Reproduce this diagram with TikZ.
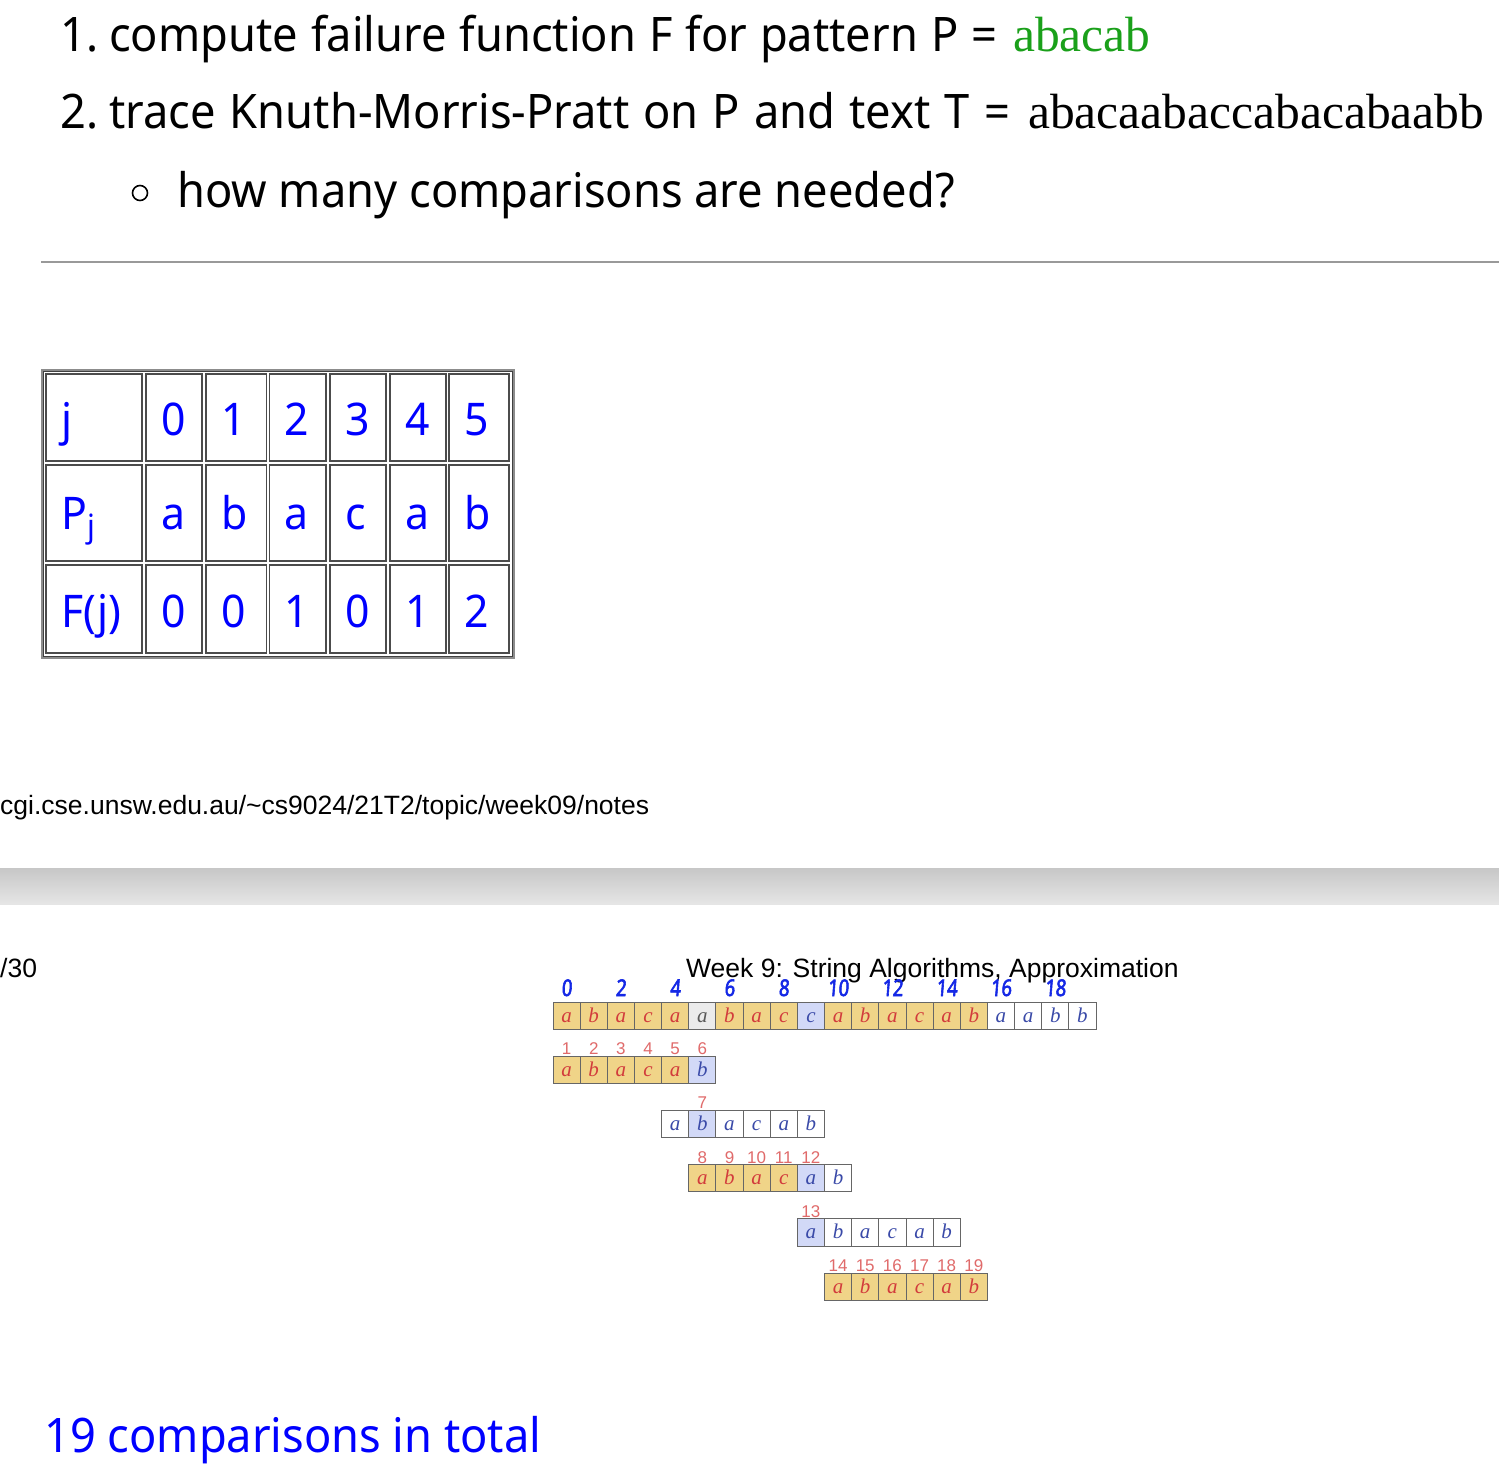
\documentclass[tikz,border=0pt]{standalone}
\usepackage{fontspec}
\setmainfont{Noto Sans}[FakeStretch=0.95]
\newfontfamily\simfont{Liberation Serif}
\newfontfamily\arialf{Liberation Sans}
\newfontfamily\handf{Noto Sans}[FakeStretch=0.8,FakeSlant=0.08,FakeBold=2.5]
\definecolor{linkblue}{HTML}{0000FF}
\definecolor{pgreen}{HTML}{1AA01A}
\definecolor{cellyel}{HTML}{F0D488}
\definecolor{cellblue}{HTML}{D2D9F7}
\definecolor{cellgray}{HTML}{EBEBEB}
\definecolor{redtxt}{HTML}{D23C3C}
\definecolor{bluetxt}{HTML}{3A4AA8}
\definecolor{numred}{HTML}{E06A6A}
\definecolor{handblue}{HTML}{1428E6}
\tikzset{
  bigtxt/.style={anchor=base west, inner sep=0pt, font=\fontsize{47.6}{57}\selectfont},
  sertxt/.style={anchor=base west, inner sep=0pt, font=\simfont\fontsize{49.5}{57}\selectfont},
  ariatxt/.style={anchor=base west, inner sep=0pt, font=\arialf\fontsize{26.5}{30}\selectfont},
  tabtxt/.style={anchor=base west, inner sep=0pt, text=linkblue, font=\fontsize{45}{50}\selectfont},
  tabcell/.style={draw=black!70, line width=1.2pt},
  cell/.style={minimum width=27.15pt, minimum height=27.2pt, inner sep=0pt, draw=black!60, line width=0.9pt,
     font=\simfont\itshape\fontsize{21}{21}\selectfont, text height=13pt, text depth=0pt},
  ya/.style={fill=cellyel, text=redtxt},
  wb/.style={fill=white, text=bluetxt},
  bb/.style={fill=cellblue, text=bluetxt},
  ga/.style={fill=cellgray, text=black!65},
  pnum/.style={anchor=base, inner sep=0pt, text=numred, font=\arialf\fontsize{17}{17}\selectfont},
  hnum/.style={anchor=base, inner sep=0pt, text=handblue, font=\handf\fontsize{23}{23}\selectfont},
}
\newcommand\prow[4]{%
  \foreach \L/\S [count=\i from 0] in {#4} {
    \pgfmathsetmacro\cx{553+(#2+\i+0.5)*27.15}
    \node[cell,\S] (#1-\i) at (\cx,#3+13.6) {\L};
  }}
\newcommand\pnums[4]{%
  \foreach \n [count=\i from 0] in {#4} {
    \pgfmathsetmacro\cx{553+(#2+\i+0.5)*27.15}
    \node[pnum] (#1-\i) at (\cx,#3-1.5) {\n};
  }}
\begin{document}
\begin{tikzpicture}[x=1pt,y=-1pt]
\useasboundingbox (0,0) rectangle (1499,1481);
\fill[white] (0,0) rectangle (1499,1481);

% top list
\node[bigtxt] (n1) at (60,51) {1.};
\node[bigtxt] (l1) at (109,51) {\spaceskip=13pt\relax compute failure function F for pattern P =};
\node[sertxt, text=pgreen] (pat) at (1013,51) {abacab};
\node[bigtxt] (n2) at (60,128) {2.};
\node[bigtxt] (l2) at (109,128) {\spaceskip=14.1pt\relax trace Knuth-Morris-Pratt on P and text T =};
\node[sertxt] (txt) at (1028,128) {abacaabaccabacabaabb};
\node[circle, draw=black, line width=1.6pt, minimum size=15pt, inner sep=0pt] (bul) at (140,193) {};
\node[bigtxt] (l3) at (177,207) {how many comparisons are needed?};

% rule
\draw[line width=2pt, draw=black!40] (41,262) -- (1499,262);

% table
\draw[line width=2.2pt, draw=black!45] (42,370) rectangle (514,658);
\draw[line width=0.8pt, draw=black!75] (43.5,371.5) rectangle (512.5,656.5);
\foreach \xa/\xb [count=\c from 0] in {46/142,146/202,206/266.5,269.5/326,330/386,390/446,449/509} {
  \foreach \ya/\yb [count=\r from 0] in {374/461,465/561,565/653} {
    \draw[tabcell] (\xa,\ya) rectangle (\xb,\yb);
  }
}
\foreach \t [count=\c from 0] in {j,0,1,2,3,4,5} {
  \pgfmathsetmacro\tx{{46,146,206,269,330,390,449}[\c]+15}
  \node[tabtxt] (tj-\c) at (\tx,435) {\t};
}
\node[tabtxt] (tp-0) at (61,529) {P\raisebox{-8pt}{\fontsize{32}{32}\selectfont j}};
\foreach \t [count=\c from 1] in {a,b,a,c,a,b} {
  \pgfmathsetmacro\tx{{46,146,206,269,330,390,449}[\c]+15}
  \node[tabtxt] (tp-\c) at (\tx,529) {\t};
}
\node[tabtxt] (tf-0) at (61,627) {F(j)};
\foreach \t [count=\c from 1] in {0,0,1,0,1,2} {
  \pgfmathsetmacro\tx{{46,146,206,269,330,390,449}[\c]+15}
  \node[tabtxt] (tf-\c) at (\tx,627) {\t};
}

% url
\node[ariatxt] (url) at (0,814) {cgi.cse.unsw.edu.au/\textasciitilde cs9024/21T2/topic/week09/notes};

% gray band
\shade[top color=black!22, bottom color=black!10] (0,868) rectangle (1499,904);

% slide
\node[ariatxt] (pg) at (0,977) {/30};
\node[ariatxt] (title) at (686,977) {Week 9: String Algorithms, Approximation};

% text row
\prow{T}{0}{1002}{a/ya,b/ya,a/ya,c/ya,a/ya,a/ga,b/ya,a/ya,c/ya,c/bb,a/ya,b/ya,a/ya,c/ya,a/ya,b/ya,a/wb,a/wb,b/wb,b/wb}
\foreach \h [count=\i from 0] in {0,2,4,6,8,10,12,14,16,18} {
  \pgfmathsetmacro\cx{553+(2*\i+0.5)*27.15}
  \node[hnum] (h-\i) at (\cx,996) {\h};
}

% pattern rows
\prow{A}{0}{1056.2}{a/ya,b/ya,a/ya,c/ya,a/ya,b/bb}
\pnums{nA}{0}{1056.2}{1,2,3,4,5,6}
\prow{B}{4}{1110.4}{a/wb,b/bb,a/wb,c/wb,a/wb,b/wb}
\pnums{nB}{5}{1110.4}{7}
\prow{C}{5}{1164.6}{a/ya,b/ya,a/ya,c/ya,a/bb,b/wb}
\pnums{nC}{5}{1164.6}{8,9,10,11,12}
\prow{D}{9}{1218.8}{a/bb,b/wb,a/wb,c/wb,a/wb,b/wb}
\pnums{nD}{9}{1218.8}{13}
\prow{E}{10}{1273}{a/ya,b/ya,a/ya,c/ya,a/ya,b/ya}
\pnums{nE}{10}{1273}{14,15,16,17,18,19}

% answer
\node[bigtxt, text=linkblue] (ans) at (44,1452) {19 comparisons in total};
\end{tikzpicture}
\end{document}
